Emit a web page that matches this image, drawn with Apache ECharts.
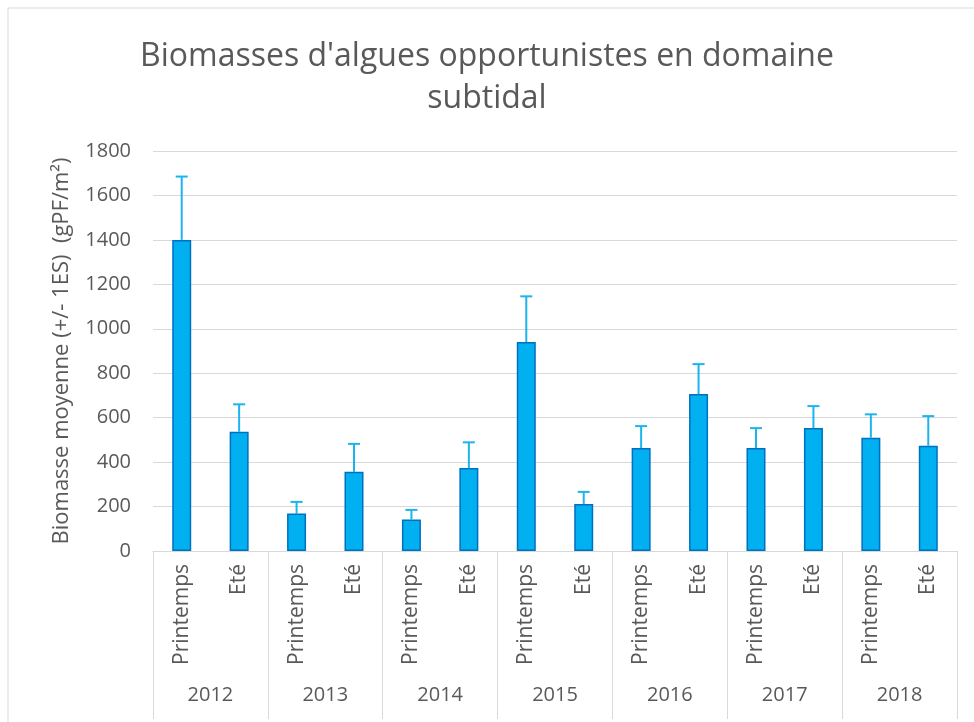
<!DOCTYPE html>
<html>
<head>
<meta charset="utf-8">
<script src="https://cdn.jsdelivr.net/npm/echarts@6/dist/echarts.min.js"></script>
<style>
  html, body { margin: 0; padding: 0; background: #fff; }
  #chart { width: 974px; height: 722px; }
</style>
</head>
<body>
<div id="chart"></div>
<script>
// saisons et années
const seasons = ["Printemps", "Eté", "Printemps", "Eté", "Printemps", "Eté", "Printemps", "Eté",
  "Printemps", "Eté", "Printemps", "Eté", "Printemps", "Eté"];
const years = ["2012", "2013", "2014", "2015", "2016", "2017", "2018"];
// biomasse moyenne et borne haute (+1 ES)
const means = [1400, 537, 169, 357, 142, 373, 940, 212, 463, 706, 463, 553, 510, 474];
const upper = [1685, 660, 221, 482, 185, 489, 1146, 266, 562, 841, 553, 652, 615, 607];

const font = "'Open Sans', sans-serif";
const grey = "#595959";

const chart = echarts.init(document.getElementById("chart"));

chart.setOption({
  animation: false,
  title: {
    text: "Biomasses d'algues opportunistes en domaine\nsubtidal",
    left: "center",
    top: 31,
    textStyle: {
      fontFamily: font,
      fontSize: 32,
      fontWeight: "normal",
      color: grey,
      lineHeight: 42
    }
  },
  graphic: [
    {
      type: "rect",
      shape: { x: 8, y: 8, width: 1000, height: 800 },
      style: { fill: null, stroke: "#d9d9d9", lineWidth: 1 }
    }
  ],
  grid: { left: 153, right: 17, top: 151, bottom: 171 },
  xAxis: [
    {
      type: "category",
      data: seasons,
      position: "bottom",
      axisLine: { lineStyle: { color: "#d9d9d9", width: 1 } },
      axisTick: { show: false },
      axisLabel: {
        rotate: 90,
        margin: 13,
        interval: 0,
        color: grey,
        fontFamily: font,
        fontSize: 21
      }
    },
    {
      type: "category",
      data: years,
      position: "bottom",
      axisLine: { show: false },
      axisTick: { show: true, length: 168, lineStyle: { color: "#d9d9d9" } },
      axisLabel: {
        margin: 134,
        color: grey,
        fontFamily: font,
        fontSize: 20
      }
    }
  ],
  yAxis: {
    type: "value",
    min: 0,
    max: 1800,
    interval: 200,
    name: "Biomasse moyenne (+/- 1ES)  (gPF/m²)",
    nameLocation: "middle",
    nameGap: 80,
    nameTextStyle: { color: grey, fontFamily: font, fontSize: 22 },
    axisLine: { show: false },
    axisTick: { show: false },
    axisLabel: {
      margin: 22,
      color: grey,
      fontFamily: font,
      fontSize: 20,
      formatter: (v) => String(v)
    },
    splitLine: { lineStyle: { color: "#d9d9d9", width: 1 } }
  },
  series: [
    {
      type: "bar",
      data: means,
      barWidth: 19,
      itemStyle: { color: "#00B0F0", borderColor: "#0070C0", borderWidth: 1.5 }
    },
    {
      // barres d'erreur
      type: "custom",
      data: means.map((m, i) => [i, m, upper[i]]),
      z: 1,
      renderItem(params, api) {
        const lo = api.coord([api.value(0), api.value(1)]);
        const hi = api.coord([api.value(0), api.value(2)]);
        return {
          type: "group",
          children: [
            {
              type: "line",
              shape: { x1: lo[0], y1: lo[1], x2: hi[0], y2: hi[1] },
              style: { stroke: "#1CB4EE", lineWidth: 2 }
            },
            {
              type: "line",
              shape: { x1: hi[0] - 6, y1: hi[1], x2: hi[0] + 6, y2: hi[1] },
              style: { stroke: "#1CB4EE", lineWidth: 2 }
            }
          ]
        };
      }
    }
  ]
});
</script>
</body>
</html>
